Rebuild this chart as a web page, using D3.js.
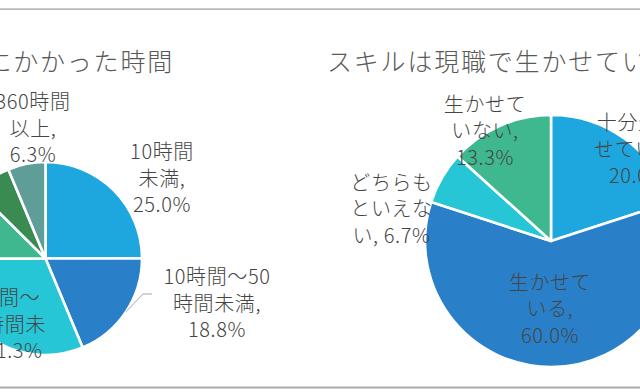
<!DOCTYPE html>
<html><head><meta charset="utf-8">
<script src="https://cdn.jsdelivr.net/npm/d3@7"></script>
<style>
html,body{margin:0;padding:0;background:#fff;overflow:hidden}
svg{display:block}
text{font-family:"Noto Sans CJK JP","Noto Sans",sans-serif;}
</style></head>
<body>
<svg id="c" width="640" height="392"></svg>
<script>
// ---- data ----
const leftTitle = "スキル習得にかかった時間";
const leftCategories = ["10時間未満","10時間〜50時間未満","50時間〜100時間未満","100時間〜200時間未満","200時間〜360時間未満","360時間以上"];
const leftValues = [25.0, 18.8, 31.3, 12.5, 6.3, 6.3];
const leftLabelLines = [["10時間","未満,","25.0%"],["10時間〜50","時間未満,","18.8%"],["50時間〜","100時間未","満, 31.3%"],["100時間〜","200時間未","満, 12.5%"],["200時間〜","360時間未","満, 6.3%"],["360時間","以上,","6.3%"]];

const rightTitle = "スキルは現職で生かせているか";
const rightCategories = ["十分生かせている","生かせている","どちらともいえない","生かせていない"];
const rightValues = [20.0, 60.0, 6.7, 13.3];
const rightLabelLines = [["十分生か","せている,","20.0%"],["生かせて","いる,","60.0%"],["どちらも","といえな","い, 6.7%"],["生かせて","いない,","13.3%"]];

// ---- styles / layout ----
const leftColors = ["#1ea6df","#2a80c8","#27c6d6","#3fb88f","#3a8b52","#5f9d98"];
const rightColors = ["#1ea6df","#2a80c8","#27c6d6","#3fb88f"];
const leftPie = {cx:45.5, cy:258.5, r:96.5};
const rightPie = {cx:551, cy:241, r:126};
const leftLabelOffsets = [[116.5,-81.5],[171.5,43.5],[-47.5,64.5],[-210,-10],[-130,-105],[-12.5,-131.5]];
const rightLabelOffsets = [[87,-93],[-1,66.5],[-159.5,-33.5],[-66,-111.5]];
const lineH = 26.5;

const svg = d3.select("#c");

// frame lines
svg.append("rect").attr("x",0).attr("y",8.5).attr("width",640).attr("height",1.2).attr("fill","#9c9c9c");
svg.append("rect").attr("x",0).attr("y",386.5).attr("width",640).attr("height",2).attr("fill","#a9a9a9");

function drawPie(cfg, values, colors, lines, offsets, title, titleX, titleAnchor, leader){
  const g = svg.append("g").attr("transform",`translate(${cfg.cx},${cfg.cy})`);
  const pie = d3.pie().sort(null).value(d=>d).startAngle(0).endAngle(2*Math.PI);
  const arcs = pie(values);
  const arc = d3.arc().innerRadius(0).outerRadius(cfg.r);
  g.selectAll("path.s").data(arcs).join("path").attr("class","s")
    .attr("d",arc).attr("fill",(d,i)=>colors[i])
    .attr("stroke","#fff").attr("stroke-width",2.6).attr("stroke-linejoin","round");
  if(leader){
    const a = arcs[leader.index];
    const mid = (a.startAngle+a.endAngle)/2;
    const p0 = [Math.sin(mid)*cfg.r, -Math.cos(mid)*cfg.r];
    g.append("path").attr("d", d3.line()([p0, leader.p1, leader.p2]))
      .attr("fill","none").attr("stroke","#a6a6a6").attr("stroke-width",1);
  }
  arcs.forEach((d,i)=>{
    const [ox,oy] = offsets[i];
    const t = g.append("text").attr("text-anchor","middle").attr("fill","#454545")
      .attr("font-size",20).attr("font-weight",300).attr("letter-spacing",0.6);
    const ls = lines[i];
    ls.forEach((s,k)=>{
      t.append("tspan").attr("x",ox).attr("y",oy+(k-(ls.length-1)/2)*lineH)
        .attr("dominant-baseline","central").text(s);
    });
  });
  svg.append("text").attr("x",titleX).attr("y",60).attr("text-anchor",titleAnchor)
    .attr("dominant-baseline","central").attr("font-size",25).attr("font-weight",300)
    .attr("letter-spacing",1.8).attr("fill","#595959").text(title);
}

drawPie(leftPie, leftValues, leftColors, leftLabelLines, leftLabelOffsets, leftTitle, 174, "end",
  {index:1, p1:[97.5,35.5], p2:[106.5,35.5]});
drawPie(rightPie, rightValues, rightColors, rightLabelLines, rightLabelOffsets, rightTitle, 327, "start", null);
</script>
</body></html>
